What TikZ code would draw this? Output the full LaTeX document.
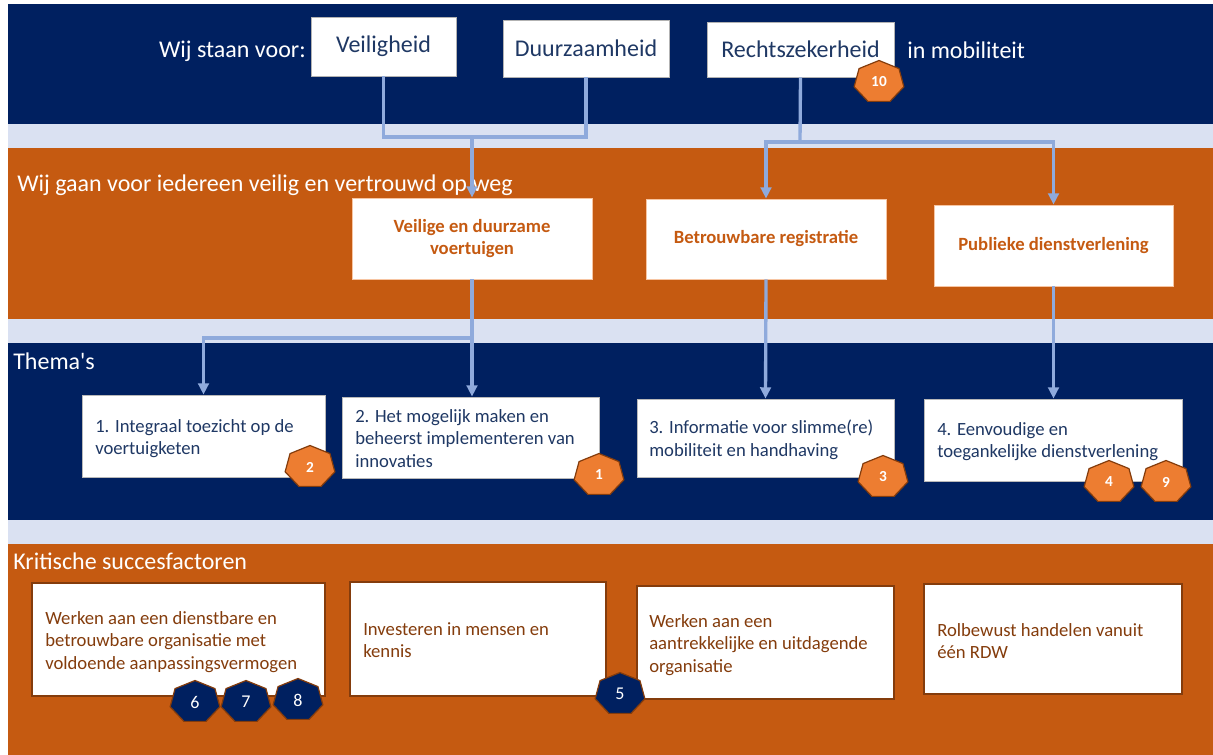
\documentclass[tikz,border=0pt]{standalone}
\usepackage{fontspec}
\setmainfont{Carlito}
\usetikzlibrary{arrows.meta,fit,calc}
\definecolor{navy}{HTML}{002060}
\definecolor{lband}{HTML}{DAE1F2}
\definecolor{oband}{HTML}{C55A11}
\definecolor{arrowc}{HTML}{8FAADC}
\definecolor{badgeo}{HTML}{ED7D31}
\definecolor{brownc}{HTML}{843C0C}
\definecolor{txtnavy}{HTML}{1F3864}
\newcommand\heptbadge[6]{%
  \filldraw[fill=#4, draw=brownc, line width=0.9pt]
    (#2,#3) +(270:25.5 and 21.5)
    \foreach \k in {1,...,6}{ -- +(270+\k*360/7:25.5 and 21.5)} -- cycle;
  \node[#5] (#1) at (#2,#3) {#6};
}
\begin{document}
\begin{tikzpicture}[x=0.75pt,y=-0.75pt,
  hdr/.style={anchor=base west, inner sep=0, text=white, font=\fontsize{18}{21}\selectfont},
  topbox/.style={draw=gray!60, fill=white, inner sep=0, line width=0.6pt},
  toptext/.style={inner sep=0, text=txtnavy, font=\fontsize{18}{21}\selectfont},
  objbox/.style={draw=badgeo!45, fill=white, inner sep=0, line width=0.6pt},
  objtext/.style={inner sep=0, text=oband, font=\bfseries\fontsize{14}{17}\selectfont, align=center},
  thbox/.style={draw=gray!55, fill=white, inner sep=0, line width=0.6pt},
  ksfbox/.style={draw=brownc, fill=white, inner sep=0, line width=0.8pt},
  thtext/.style={anchor=north west, inner sep=0, align=left, text=txtnavy, font=\fontsize{14}{16.8}\selectfont},
  ksftext/.style={anchor=north west, inner sep=0, align=left, text=brownc, font=\fontsize{14}{16.8}\selectfont},
  conn/.style={draw=arrowc, line width=2.5pt},
  arr/.style={conn, -{Triangle[width=8pt,length=8.5pt]}},
  onum/.style={inner sep=0, text=white, font=\bfseries\fontsize{11.5}{13}\selectfont},
  nnum/.style={inner sep=0, text=white, font=\fontsize{13.5}{15}\selectfont}
]
\useasboundingbox (0,0) rectangle (1213,755);
% bands
\fill[white] (0,0) rectangle (1213,755);
\fill[navy]  (8,4)   rectangle (1213,124);
\fill[lband] (8,124) rectangle (1213,148);
\fill[oband] (8,148) rectangle (1213,319);
\fill[lband] (8,319) rectangle (1213,343);
\fill[navy]  (8,343) rectangle (1213,520);
\fill[lband] (8,520) rectangle (1213,544);
\fill[oband] (8,544) rectangle (1213,755);

% headings
\node[hdr, anchor=base east] (staan) at (306,58) {Wij staan voor:};
\node[hdr] (mobi) at (907,59) {in mobiliteit};
\node[hdr] (gaan) at (17,192) {Wij gaan voor iedereen veilig en vertrouwd op weg};
\node[hdr] (thema) at (13,369) {Thema\textquotesingle s};
\node[hdr] (ksf) at (13,569) {Kritische succesfactoren};

% top boxes
\node[topbox, fit={(311,17)(456,76)}] (veil) {};
\node[toptext] (veilt) at (veil.center) {Veiligheid};
\node[topbox, fit={(503,20)(669,77)}] (duur) {};
\node[toptext] (duurt) at (duur.center) {Duurzaamheid};
\node[topbox, fit={(707,22)(894,77)}] (rech) {};
\node[toptext] (recht) at (rech.center) {Rechtszekerheid};

% objective boxes
\node[objbox, fit={(352,198)(592,279)}] (o1) {};
\node[objtext] (o1t) at (o1.center) {Veilige en duurzame\\voertuigen};
\node[objbox, fit={(646,199)(886,279)}] (o2) {};
\node[objtext] (o2t) at (o2.center) {Betrouwbare registratie};
\node[objbox, fit={(934,205)(1173,286)}] (o3) {};
\node[objtext] (o3t) at (o3.center) {Publieke dienstverlening};

% theme boxes
\node[thbox, fit={(82,395)(325,477)}] (t1) {};
\node[thtext] (t1t) at (95,419) {1. Integraal toezicht op de\\voertuigketen};
\node[thbox, fit={(342,397)(599,478)}] (t2) {};
\node[thtext] (t2t) at (355,409) {2. Het mogelijk maken en\\beheerst implementeren van\\innovaties};
\node[thbox, fit={(637,399)(894,477)}] (t3) {};
\node[thtext] (t3t) at (649,420) {3. Informatie voor slimme(re)\\mobiliteit en handhaving};
\node[thbox, fit={(924,399)(1182,481)}] (t4) {};
\node[thtext] (t4t) at (937,422) {4. Eenvoudige en\\toegankelijke dienstverlening};

% critical success factor boxes
\node[ksfbox, fit={(32,583)(325,696)}] (c1) {};
\node[ksftext] (c1t) at (45,611) {Werken aan een dienstbare en\\betrouwbare organisatie met\\voldoende aanpassingsvermogen};
\node[ksfbox, fit={(350,582)(606,696)}] (c2) {};
\node[ksftext] (c2t) at (363,622) {Investeren in mensen en\\kennis};
\node[ksfbox, fit={(637,586)(894,699)}] (c3) {};
\node[ksftext] (c3t) at (649,614) {Werken aan een\\aantrekkelijke en uitdagende\\organisatie};
\node[ksfbox, fit={(924,584)(1182,694)}] (c4) {};
\node[ksftext] (c4t) at (937,623) {Rolbewust handelen vanuit\\één RDW};

% connectors
\coordinate (j1) at (472,137);
\coordinate (j2) at (800,142);
\coordinate (j3) at (472,338);
\draw[conn] (veil.south) |- (j1) -| (duur.south);
\draw[arr] (j1) -- (o1.north);
\draw[conn] (rech.south) -- (j2);
\draw[arr] (j2) -| (o2.north);
\draw[arr] (j2) -| (o3.north);
\draw[conn] (o1.south) -- (j3);
\draw[arr] (j3) -| (t1.north);
\draw[arr] (j3) -- (j3 |- t2.north);
\draw[arr] (o2.south) -- (t3.north);
\draw[arr] (o3.south) -- (o3.south |- t4.north);

% badges
\heptbadge{b10}{879}{82}{badgeo}{onum}{10}
\heptbadge{b2}{310}{467}{badgeo}{onum}{2}
\heptbadge{b1}{599}{475}{badgeo}{onum}{1}
\heptbadge{b3}{883}{477}{badgeo}{onum}{3}
\heptbadge{b4}{1109}{482}{badgeo}{onum}{4}
\heptbadge{b9}{1166}{482}{badgeo}{onum}{9}
\heptbadge{b6}{195}{702}{navy}{nnum}{6}
\heptbadge{b7}{246}{702}{navy}{nnum}{7}
\heptbadge{b8}{298}{700}{navy}{nnum}{8}
\heptbadge{b5}{620}{694}{navy}{nnum}{5}
\end{tikzpicture}
\end{document}
